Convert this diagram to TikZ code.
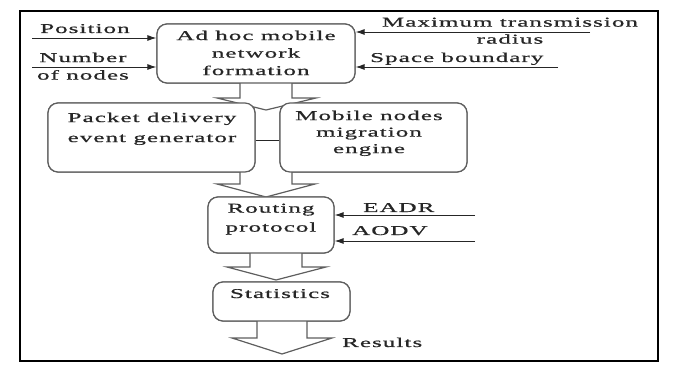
\documentclass[tikz,border=0pt]{standalone}
\usepackage{fontspec}
\setmainfont{Liberation Serif}[FakeStretch=1.85,LetterSpace=8,FakeBold=0.8]
\usetikzlibrary{arrows.meta,calc}
\definecolor{ink}{HTML}{262626}
\definecolor{edge}{HTML}{5E5E5E}
\tikzset{
  box/.style={draw=edge,line width=1.2pt,rounded corners=10pt,fill=white,inner sep=0pt},
  txt/.style={text=ink,inner sep=0pt,align=center,font=\fontsize{13.5pt}{17.5pt}\selectfont},
  feed/.style={draw=ink,line width=0.9pt,-{Latex[length=9pt,width=6pt]}},
  flow/.style={draw=edge,line width=1.2pt,fill=white,line join=miter},
  frame/.style={draw=black,line width=2pt}
}
\begin{document}
\begin{tikzpicture}[x=1pt,y=-1pt]
\useasboundingbox (0,0) rectangle (678,366);
\draw[frame] (20,11) rectangle (658,361);

% boxes (placed first so the wide arrows can refer to them)
\path
  node[box,minimum width=198pt,minimum height=59pt] (adhoc) at (256,53.5) {}
  node[box,minimum width=207pt,minimum height=69pt] (packet) at (151.5,137.5) {}
  node[box,minimum width=187pt,minimum height=69pt] (mobile) at (373.5,137.5) {}
  node[box,minimum width=126pt,minimum height=56pt] (routing) at (271,225) {}
  node[box,minimum width=137pt,minimum height=39pt] (stats) at (281.5,301.5) {};

% wide hollow arrows between the stages
\coordinate (a1) at (266,83);
\draw[flow] ($(a1)+(-26,0)$) -- ++(0,15) -- ++(-23,0) -- (266,110) -- (316,98) -- ++(-24,0) -- ($(a1)+(26,0)$);
\coordinate (a2) at (266,172);
\draw[flow] ($(a2)+(-26,0)$) -- ++(0,12) -- ++(-23,0) -- (266,197) -- (315,184) -- ++(-23,0) -- ($(a2)+(26,0)$);
\coordinate (a3) at (276,253);
\draw[flow] ($(a3)+(-26,0)$) -- ++(0,14) -- ++(-23,0) -- (276,280) -- (326,267) -- ++(-24,0) -- ($(a3)+(26,0)$);
\coordinate (a4) at (282,321);
\draw[flow] ($(a4)+(-25,0)$) -- ++(0,17) -- ++(-25,0) -- (282,354) -- (332,338) -- ++(-25,0) -- ($(a4)+(25,0)$);

% boxes drawn again on top of the arrow bodies
\path
  node[box,minimum width=198pt,minimum height=59pt] at (adhoc) {}
  node[box,minimum width=207pt,minimum height=69pt] at (packet) {}
  node[box,minimum width=187pt,minimum height=69pt] at (mobile) {}
  node[box,minimum width=126pt,minimum height=56pt] at (routing) {}
  node[box,minimum width=137pt,minimum height=39pt] at (stats) {};

% link between the two parallel stages
\draw[draw=ink,line width=0.9pt] (packet.east |- 0,140) -- (mobile.west |- 0,140);

% box captions
\node[txt,anchor=north] (adhoct) at (256,30.5) {Ad hoc mobile\\network\\formation};
\node[txt,anchor=north] (packett) at (152,112.5) {Packet delivery\\[2.5pt]event generator};
\node[txt,anchor=north] (mobilet) at (369,110.5) {Mobile nodes\\[-1pt]migration\\[-1pt]engine};
\node[txt,anchor=north] (routingt) at (271,203.5) {Routing\\[1.5pt]protocol};
\node[txt,anchor=base] (statst) at (280,298) {Statistics};

% inputs
\coordinate (pos0) at (32,38);
\coordinate (num0) at (32,67);
\coordinate (max0) at (590,32);
\coordinate (spc0) at (558,67);
\coordinate (ead0) at (475,215);
\coordinate (aod0) at (475,241);
\draw[feed] (pos0) -- (pos0 -| adhoc.west);
\draw[feed] (num0) -- (num0 -| adhoc.west);
\draw[feed] (max0) -- (max0 -| adhoc.east);
\draw[feed] (spc0) -- (spc0 -| adhoc.east);
\draw[feed] (ead0) -- (ead0 -| routing.east);
\draw[feed] (aod0) -- (aod0 -| routing.east);

\node[txt,anchor=base west] (post) at (40,33) {Position};
\node[txt,anchor=north] (numt) at (83,52.5) {Number\\of nodes};
\node[txt,anchor=north] (maxt) at (510,17.5) {Maximum transmission\\[-0.5pt]radius};
\node[txt,anchor=base west] (spct) at (370,62) {Space boundary};
\node[txt,anchor=base west] (eadt) at (363,212) {EADR};
\node[txt,anchor=base west] (aodt) at (352,235) {AODV};
\node[txt,anchor=base west] (rest) at (342,347) {Results};
\end{tikzpicture}
\end{document}
